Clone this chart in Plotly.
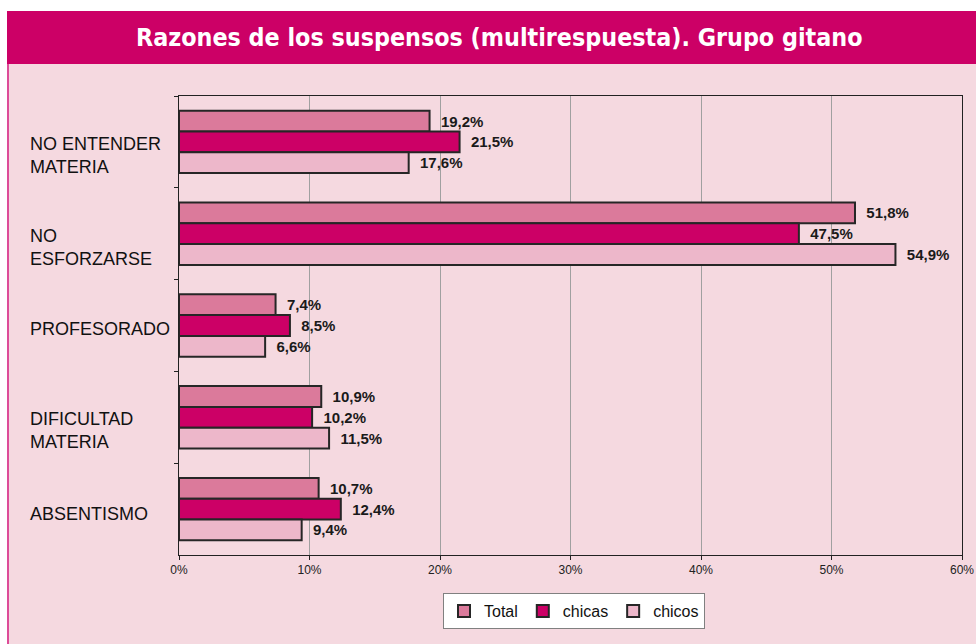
import plotly.graph_objects as go

categories = ["NO ENTENDER MATERIA", "NO ESFORZARSE", "PROFESORADO", "DIFICULTAD MATERIA", "ABSENTISMO"]
category_labels = ["NO ENTENDER<br>MATERIA", "NO<br>ESFORZARSE", "PROFESORADO", "DIFICULTAD<br>MATERIA", "ABSENTISMO"]
total = [19.2, 51.8, 7.4, 10.9, 10.7]
chicas = [21.5, 47.5, 8.5, 10.2, 12.4]
chicos = [17.6, 54.9, 6.6, 11.5, 9.4]
x_ticks = [0, 10, 20, 30, 40, 50, 60]
title = "Razones de los suspensos (multirespuesta). Grupo gitano"

W, H = 976, 644
L, R, T, B = 179, 962, 96, 555
pw, ph = R - L, B - T

def px(x):
    return (x - L) / pw

def py(y):
    return (B - y) / ph

PINK_BG = "#F5D9E0"
MAGENTA = "#CC0066"

fig = go.Figure()
series = [("Total", total, "#DB7A9B"), ("chicas", chicas, "#CC0066"), ("chicos", chicos, "#EDB7CA")]
for name, vals, col in series:
    fig.add_trace(go.Bar(
        name=name, y=categories, x=vals, orientation="h",
        marker=dict(color=col, line=dict(color="#262626", width=2)),
        text=vals, texttemplate="  %{x:.1f}%", textposition="outside",
        textfont=dict(family="Arial, Liberation Sans", size=15, color="#1a1a1a", weight="bold"),
        cliponaxis=False,
    ))

shapes = [
    dict(type="rect", xref="paper", yref="paper", x0=px(0), x1=px(W), y0=py(11), y1=py(0),
         fillcolor="white", line=dict(width=0), layer="below"),
    dict(type="rect", xref="paper", yref="paper", x0=px(0), x1=px(7), y0=py(H), y1=py(0),
         fillcolor="white", line=dict(width=0), layer="below"),
    dict(type="rect", xref="paper", yref="paper", x0=px(7), x1=px(W), y0=py(64), y1=py(11),
         fillcolor=MAGENTA, line=dict(width=0), layer="below"),
    dict(type="rect", xref="paper", yref="paper", x0=px(7), x1=px(9), y0=py(H), y1=py(64),
         fillcolor="#DD4C98", line=dict(width=0), layer="below"),
]

annotations = [dict(
    text="<b>" + title + "</b>", xref="paper", yref="paper", x=px(499), y=py(37.5),
    xanchor="center", yanchor="middle", showarrow=False,
    font=dict(family="DejaVu Sans Condensed, DejaVu Sans", size=24.8, color="white"),
)]
shifts = [-14, -14, -3, -13, -5]
for cat, lab, s in zip(categories, category_labels, shifts):
    annotations.append(dict(
        text=lab, xref="paper", yref="y", x=px(28), y=cat, xanchor="left", yanchor="middle",
        align="left", showarrow=False, yshift=s,
        font=dict(family="Arial, Liberation Sans", size=18, color="#111111"),
    ))

fig.update_layout(
    width=W, height=H,
    margin=dict(l=L, r=W - R, t=T, b=H - B, autoexpand=False),
    paper_bgcolor=PINK_BG, plot_bgcolor="rgba(0,0,0,0)",
    barmode="group", bargap=0.32, bargroupgap=0,
    separators=",.",
    showlegend=True,
    legend=dict(orientation="h", x=px(574), y=py(593), xanchor="center", yanchor="top",
                bgcolor="white", bordercolor="#808080", borderwidth=1,
                font=dict(family="Arial, Liberation Sans", size=16, color="#111111"),
                itemwidth=30, traceorder="normal", tracegroupgap=0),
    shapes=shapes, annotations=annotations,
    xaxis=dict(range=[0, 60], tickvals=x_ticks, ticktext=[f"{v}%" for v in x_ticks],
               showgrid=True, gridcolor="#A0A0A0", gridwidth=1,
               showline=True, linecolor="#222222", linewidth=1, mirror=True,
               ticks="outside", ticklen=4, tickcolor="#222222",
               tickfont=dict(family="Liberation Sans Narrow, Arial Narrow, Arial", size=12, color="#222222"),
               zeroline=False, fixedrange=True, automargin=False),
    yaxis=dict(autorange="reversed", showticklabels=False, tickson="boundaries",
               ticks="outside", ticklen=4, tickcolor="#222222",
               showline=True, linecolor="#222222", linewidth=1, mirror=True,
               showgrid=False, fixedrange=True, automargin=False),
)

js = "document.body.style.margin='0';document.body.style.overflow='hidden';"
fig.write_html("out.html", post_script=js, config={"displayModeBar": False})
